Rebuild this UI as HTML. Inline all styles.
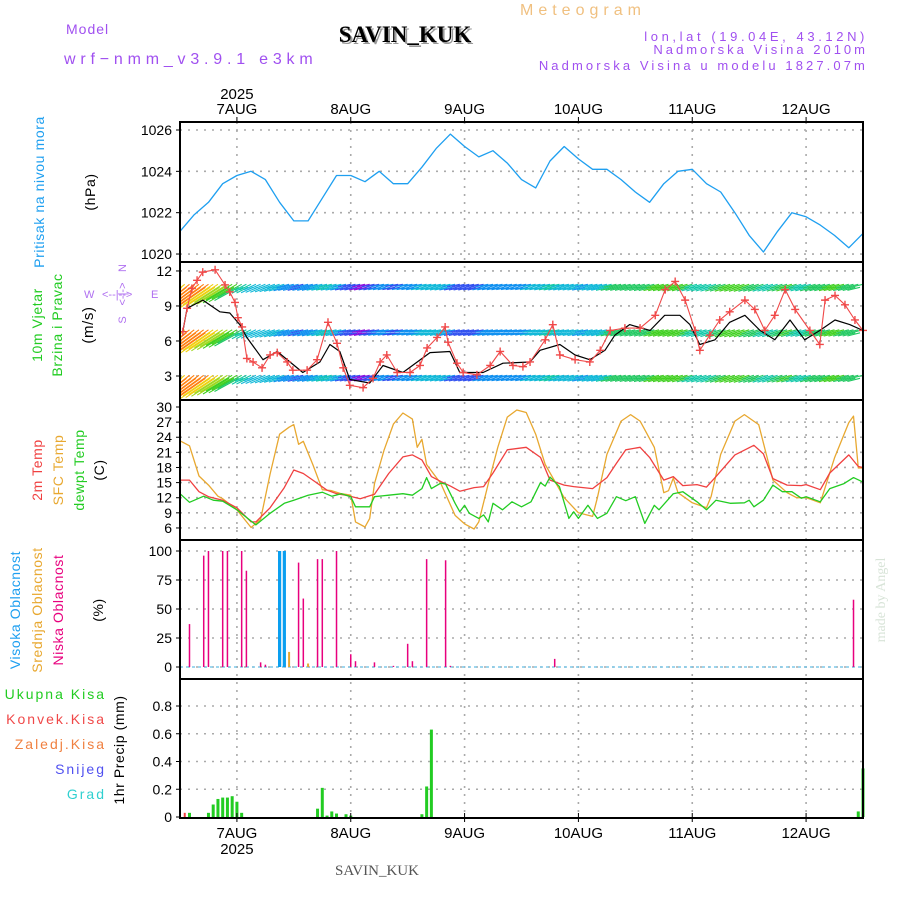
<!DOCTYPE html>
<html><head><meta charset="utf-8"><style>
body{margin:0;background:#fff}
svg{display:block;font-family:"Liberation Sans",sans-serif}
</style></head><body>
<svg id="chart" width="900" height="900" viewBox="0 0 900 900" xmlns="http://www.w3.org/2000/svg">
<g id="header">
<text x="520" y="15" font-size="16" fill="#f0c080" letter-spacing="5">Meteogram</text>
<text x="66" y="34" font-size="14" fill="#a050f0" letter-spacing="1">Model</text>
<text x="64" y="64" font-size="16" fill="#a050f0" letter-spacing="4.8">wrf−nmm_v3.9.1 e3km</text>
<text x="407" y="44" font-size="23" font-weight="bold" font-family="Liberation Serif, serif" fill="#999" text-anchor="middle">SAVIN_KUK</text>
<text x="405" y="42" font-size="23" font-weight="bold" font-family="Liberation Serif, serif" fill="#000" text-anchor="middle">SAVIN_KUK</text>
<text x="868" y="41" font-size="13" fill="#a050f0" text-anchor="end" letter-spacing="3.6">lon,lat (19.04E, 43.12N)</text>
<text x="868" y="54" font-size="13" fill="#a050f0" text-anchor="end" letter-spacing="3">Nadmorska Visina 2010m</text>
<text x="868" y="70" font-size="13" fill="#a050f0" text-anchor="end" letter-spacing="3.1">Nadmorska Visina u modelu 1827.07m</text>
</g>
<g id="grid"></g>
<g id="marks"></g>
<g id="frames"></g>
<g id="labels"></g>
</svg>
<script>
// ---- data ----
const dayLabels=["7AUG","8AUG","9AUG","10AUG","11AUG","12AUG"];
const dayHours=[12,36,60,84,108,132];
const presTicks=[1020,1022,1024,1026];
const windTicks=[3,6,9,12];
const tempTicks=[6,9,12,15,18,21,24,27,30];
const cloudTicks=[0,25,50,75,100];
const precTicks=[0,0.2,0.4,0.6,0.8];
const presHours=[0,3,6,9,12,15,18,21,24,27,30,33,36,39,42,45,48,51,54,57,60,63,66,69,72,75,78,81,84,87,90,93,96,99,102,105,108,111,114,117,120,123,126,129,132,135,138,141,144];
const pressure=[1021.1,1021.9,1022.5,1023.4,1023.8,1024.0,1023.6,1022.5,1021.6,1021.6,1022.7,1023.8,1023.8,1023.5,1024.0,1023.4,1023.4,1024.2,1025.1,1025.8,1025.2,1024.7,1025.0,1024.4,1023.6,1023.2,1024.5,1025.2,1024.6,1024.1,1024.1,1023.6,1023.0,1022.5,1023.4,1024.0,1024.1,1023.4,1023.0,1022.0,1020.9,1020.1,1021.1,1022.0,1021.8,1021.4,1020.9,1020.3,1021.0];
const speedHours=[0.6,1.5,4.8,8.4,10.5,12.6,14.1,17.5,20.5,25.9,29.5,31.6,33.7,35.8,40,42.8,47,52.7,56.9,59,63.9,68.1,73.8,75.9,80.1,83.3,86.4,89.6,91.7,94.8,99.1,102.2,105.4,107.5,109.6,112.8,115.9,119.1,122.3,125.4,128.6,131.7,134.9,138.1,141.2,144];
const windSpeed=[6.8,8.8,9.5,8.5,8.4,7.4,6.3,4.4,5.1,3.3,4.2,5.7,5.1,2.7,2.4,3.9,3.3,5,5.1,3.3,3.3,4.1,4.2,5.2,5.7,4.8,4.4,5.2,6.5,7.4,6.9,8.2,8.2,7.4,5.7,6.1,7.6,8.2,6.9,6.1,7.8,6.1,6.9,7.8,7.4,6.9];
const gustHours=[0.6,1.5,2.5,3.6,4.8,7.4,9.5,10.5,11.6,12.2,13.1,14.1,15.4,17.3,19,20.5,22.6,23.8,26.8,28.9,31.2,33.1,34.4,35.8,38.6,40.7,42.2,43.6,45.8,48.5,50.6,52.1,54.2,55.9,56.5,58.4,59.7,62.6,65.4,67.5,70.2,72.3,73.8,77,78.6,80.1,83.3,86.4,88.6,90.7,93.8,97,100.2,102.3,104.4,106.5,108.6,109.6,111.7,113.8,115.9,119.1,121.2,123.3,125.4,127.6,129.7,132.8,134.9,136,138.1,140.2,142.3,144];
const windGust=[6.8,8.8,10.5,11.2,11.9,12.1,10.8,10.2,9.3,8,7.2,4.5,4.2,3.7,4.8,5,4.2,3.5,3.5,4.4,7.6,5.8,3.7,2.2,2,2.8,4.2,4.8,3.3,3.3,3.9,5.4,6.3,7.2,5.9,4.1,3.3,3.1,3.9,5.1,3.9,3.8,4.2,6.1,7.4,4.8,4.4,4.2,5.2,6.9,7.1,7.1,8.2,10.4,11.1,9.5,6.9,5.2,6.5,7.8,8.5,9.5,8.7,6.9,8.2,10.4,8.7,6.9,5.7,9.5,9.9,9.1,7.8,6.9];
const windDirHours=[0,12,24,36,48,60,72,84,96,108,120,132,144];
const windDir=[40,30,14,12,10,12,10,12,14,16,18,16,14];
const t2Hours=[0,2,4,6,9,12,15,16,19,22,24,26,28,31,33,35,38,41,44,47,49,51,53,55,57,59,62,64,66,69,73,76,78,81,83,87,90,92,94,97,99,102,104,106,109,111,113,117,121,123,125,128,131,132,135,137,141,143,144];
const temp2m=[15.5,15.5,13.2,12.2,11.5,10,7.2,7.2,10,14,17.5,16.8,15.5,13.5,12.8,12.5,11.8,12.7,16.8,20.1,20.5,19.5,16.2,15.2,14.3,13.3,14,14.2,16.9,21.5,22,20,15.5,14.5,14.2,13.8,16,18.8,21.5,22,20,15.5,16.2,14.4,14.6,14.1,16.2,20.5,22.4,20.7,15.8,14.5,14.4,14.6,13.6,16.9,20.5,18.2,18];
const sfcHours=[0,2,4,6,8,9,12,15,17,19,21,23,24,25,26,28,30,32,34,36,37,39,40,41,43,45,47,49,50,51,52,55,58,60,62,63,65,67,69,71,73,75,77,81,84,87,88,90,93,95,97,100,102,103,104,105,108,111,112,114,117,119,122,125,128,130,132,135,138,141,142,143,144];
const tempSfc=[23.3,22.3,16.3,14.5,12.3,11.8,9.6,6.1,7.7,16.7,24.6,26,26.5,22.6,23.2,18.6,13.6,13.4,12.8,12.5,7.2,6.2,7.9,14.8,21.4,26.6,28.8,27.6,22,23.6,18.6,14.8,8.5,6.8,5.8,7.2,14.8,22,28,29.4,28.9,24.6,18.6,12,9,8.3,12,20.6,27.2,28.5,27.2,22,13,13.4,15.9,13,11,10,12.3,20.6,27.2,28.5,26.5,15.5,13,12,12,11,19.9,26.9,28.2,17.9,17.9];
const dewHours=[0,2,5,7,9,12,16,19,22,24,27,30,32,34,36,37,40,41,44,47,49,51,52,53,55,56,58,59,60,61,63,64,65,66,68,70,72,74,76,77,78,80,82,83,84,86,88,90,92,94,96,98,100,101,104,106,109,111,113,116,119,120,121,123,125,127,129,131,132,135,137,140,142,144];
const dewpoint=[12.8,11.1,12.3,11.5,11.3,9.6,6.6,8.9,10.9,11.5,12.5,13.1,12.3,12.8,12.2,10.2,10.2,12.2,12.5,12.8,12.5,13.8,16,13.8,14.9,14.7,10.9,9.2,10.5,8.9,7.9,8.6,7.2,10.9,9.6,11.2,10.2,11.2,15,14.3,16.1,14.2,7.9,9.2,7.9,10.5,7.9,8.9,12.2,11.4,12.2,6.9,10.5,9.6,12.8,13.2,11.2,9.6,11.5,10.9,11,11.5,10.2,11.5,14.5,13.2,13.2,11.9,12.2,11.2,13.8,14.8,16,15.1];
const lowCloudHours=[2,5,6,9,10,13,14,17,18,25,26,29,30,33,36,37,41,45,48,49,52,56,57,79,142];
const lowCloud=[37,96,100,100,100,100,83,4,2,90,59,93,93,100,11,5,4,1,20,5,93,92,1,7,58];
const midCloudHours=[23,27];
const midCloud=[13,3];
const highCloudHours=[21,22];
const highCloud=[100,100];
const precipHours=[2,6,7,8,9,10,11,12,13,29,30,31,32,33,35,36,51,52,53,143,144];
const precipTotal=[0.03,0.03,0.09,0.13,0.14,0.14,0.15,0.11,0.03,0.06,0.21,0.01,0.04,0.025,0.02,0.01,0.02,0.22,0.63,0.04,0.35];
const convHours=[1];
const convPrecip=[0.03];

// ---- scales ----
const L=180,R=863;
const X=h=>L+h*(R-L)/144;
const yP=v=>130+(1026-v)*20.67;
const yW=v=>411-v*11.67;
const yT=v=>407+(30-v)*5.04;
const yC=v=>667-v*1.16;
const yR=v=>817-v*138.75;
const panels=[[122,262],[262,400],[400,540],[540,679],[679,818]];
const NS="http://www.w3.org/2000/svg";
function mk(tag,attrs,parent,text){const e=document.createElementNS(NS,tag);for(const k in attrs)e.setAttribute(k,attrs[k]);if(text!==undefined)e.textContent=text;parent.appendChild(e);return e;}
function interp(hs,vs,h){if(h<=hs[0])return vs[0];for(let i=1;i<hs.length;i++){if(h<=hs[i]){const t=(h-hs[i-1])/(hs[i]-hs[i-1]);return vs[i-1]+t*(vs[i]-vs[i-1]);}}return vs[vs.length-1];}
const grid=document.getElementById('grid'),marks=document.getElementById('marks'),frames=document.getElementById('frames'),labels=document.getElementById('labels');

// grid
const dash={stroke:"#aaa","stroke-width":1.6,"stroke-dasharray":"2,6",fill:"none"};
dayHours.forEach((h,i)=>{const g=mk('line',Object.assign({x1:X(h),x2:X(h),y1:122,y2:818},dash),grid);

});
function hgrid(ticks,f,name){ticks.forEach(t=>{const g=mk('line',Object.assign({x1:L,x2:R,y1:f(t),y2:f(t)},dash),grid);

});}
hgrid(presTicks,yP,'pressure-gridline');hgrid(windTicks,yW,'wind-gridline');hgrid(tempTicks.filter(t=>t!==30),yT,'temp-gridline');hgrid(cloudTicks,yC,'cloud-gridline');hgrid(precTicks.filter(t=>t>0),yR,'precip-gridline');

function poly(hs,vs,fy,color,w,name){const pts=hs.map((h,i)=>X(h).toFixed(1)+","+fy(vs[i]).toFixed(1)).join(" ");const p=mk('polyline',{points:pts,fill:"none",stroke:color,"stroke-width":w,"stroke-linejoin":"round"},marks);

return p;}
poly(presHours,pressure,yP,"#1e9ff0",1.3,'pressure-line');

// wind arrows (3 bands), colour by speed bin
const palette=["#8a10e0","#3050f0","#1090f0","#10b8d8","#10c8a8","#20c860","#40d020","#a0d820","#f0d010","#ff8010","#ff2040"];
function speedColor(s){let i=Math.floor(s-1.5);if(i<0)i=0;if(i>palette.length-1)i=palette.length-1;return palette[i];}
const defs=mk('defs',{},document.getElementById('chart'));
const cp=mk('clipPath',{id:"windclip"},defs);mk('rect',{x:L,y:263,width:R-L,height:136},cp);
const windG=mk('g',{"clip-path":"url(#windclip)"},marks);


[10.6,6.7,2.8].forEach(bv=>{for(let h=0;h<=144;h+=1){const sv=interp(speedHours,windSpeed,h)+(h<12?(12-h)*0.25:0);const col=speedColor(sv);
const d=interp(windDirHours,windDir,h)*Math.PI/180;const len=h<14?26+(14-h)*1.5:13;const x0=X(h),y0=yW(bv)-3;
const x1=x0-len*Math.cos(d),y1=y0+len*Math.sin(d);
const a=mk('path',{d:"M"+x0.toFixed(1)+","+y0.toFixed(1)+"L"+x1.toFixed(1)+","+y1.toFixed(1)+"M"+(x0-3).toFixed(1)+","+(y0+3).toFixed(1)+"L"+(x1-3).toFixed(1)+","+(y1+3).toFixed(1),stroke:col,"stroke-width":1.1,fill:"none"},windG);

}});
poly(speedHours,windSpeed,yW,"#000",1.2,'wind-speed-line');
poly(gustHours,windGust,yW,"#f04848",1.1,'wind-gust-line');
gustHours.forEach((h,i)=>{const x=X(h),y=yW(windGust[i]);const m=mk('path',{d:"M"+(x-4)+","+y+"H"+(x+4)+"M"+x+","+(y-4)+"V"+(y+4),stroke:"#f04848","stroke-width":1.4},marks);

});

// temperatures
poly(sfcHours,tempSfc,yT,"#e8a830",1.3,'sfc-temp-line');
poly(t2Hours,temp2m,yT,"#f04040",1.3,'temp-2m-line');
poly(dewHours,dewpoint,yT,"#22cc22",1.3,'dewpoint-line');

// clouds
const cb=mk('line',{x1:L,x2:R,y1:yC(0),y2:yC(0),stroke:"#7fc8e8","stroke-width":1.5,"stroke-dasharray":"3,3"},marks);


function bars(hs,vs,fy,col,w,name){hs.forEach((h,i)=>{const y=fy(vs[i]),y0=fy(0);const r=mk('rect',{x:X(h)-w/2,y:y,width:w,height:Math.max(0.5,y0-y),fill:col},marks);

});}
bars(highCloudHours,highCloud,yC,"#0a9ff0",3.2,'high-cloud-bar');
bars(midCloudHours,midCloud,yC,"#e8a830",2,'mid-cloud-bar');
bars(lowCloudHours,lowCloud,yC,"#e8007e",1.5,'low-cloud-bar');
// precip
bars(precipHours,precipTotal,yR,"#22cc22",3,'precip-bar');
bars(convHours,convPrecip,yR,"#f04040",2,'convective-precip-bar');

// frames
panels.forEach(([a,b],i)=>{const r=mk('rect',{x:L,y:a,width:R-L,height:b-a,fill:"none",stroke:"#000","stroke-width":2},frames);

});
dayHours.forEach(h=>{const t=mk('path',{d:"M"+X(h)+",117V122M"+X(h)+",813V822",stroke:"#000","stroke-width":1},frames);

});

// tick labels
function ylabels(ticks,f,fmt,name){ticks.forEach(t=>{const tx=mk('text',{x:172,y:f(t)+5,"font-size":14,"text-anchor":"end",fill:"#000"},labels,fmt(t));


const tk=mk('line',{x1:L-4,x2:L,y1:f(t),y2:f(t),stroke:"#000"},labels);

});}
ylabels(presTicks,yP,t=>t,'pressure-tick-label');
ylabels(windTicks,yW,t=>t,'wind-tick-label');
ylabels(tempTicks,yT,t=>t,'temp-tick-label');
ylabels(cloudTicks,yC,t=>t,'cloud-tick-label');
ylabels(precTicks,yR,t=>t===0?"0":t.toFixed(1),'precip-tick-label');
dayLabels.forEach((d,i)=>{const a=mk('text',{x:X(dayHours[i]),y:114,"font-size":15,"text-anchor":"middle"},labels,d);


const b=mk('text',{x:X(dayHours[i]),y:838,"font-size":15,"text-anchor":"middle"},labels,d);

});
const y1=mk('text',{x:X(12),y:99,"font-size":15,"text-anchor":"middle"},labels,"2025");


const y2=mk('text',{x:X(12),y:854,"font-size":15,"text-anchor":"middle"},labels,"2025");



// axis titles (rotated)
function vtext(x,y,s,col,size,name){const t=mk('text',{x:0,y:0,transform:"translate("+x+","+y+") rotate(-90)","font-size":size||14,"text-anchor":"middle",fill:col,"letter-spacing":"0.6"},labels,s);

}
vtext(44,192,"Pritisak na nivou mora","#1e9ff0",14,'pressure-title');
vtext(95,192,"(hPa)","#000",14,'pressure-unit');
vtext(42,325,"10m Vjetar","#22cc22",14,'wind-title');
vtext(62,325,"Brzina i Pravac","#22cc22",14,'wind-subtitle');
vtext(93,325,"(m/s)","#000",15,'wind-unit');
vtext(42,470,"2m Temp","#f04040",14,'temp-2m-title');
vtext(63,470,"SFC Temp","#e8a830",14,'sfc-temp-title');
vtext(84,470,"dewpt Temp","#22cc22",14,'dewpt-title');
vtext(104,470,"(C)","#000",14,'temp-unit');
vtext(20,610,"Visoka Oblacnost","#1e9ff0",14,'high-cloud-title');
vtext(42,610,"Srednja Oblacnost","#e8a830",14,'mid-cloud-title');
vtext(63,610,"Niska Oblacnost","#e8007e",14,'low-cloud-title');
vtext(103,610,"(%)","#000",14,'cloud-unit');
vtext(124,750,"1hr Precip (mm)","#000",14,'precip-title');
const pl=[["Ukupna Kisa","#22cc22",699],["Konvek.Kisa","#f04848",724],["Zaledj.Kisa","#f08040",749],["Snijeg","#5050f0",774],["Grad","#30d0d0",799]];
pl.forEach(p=>{const t=mk('text',{x:106,y:p[2],"font-size":14,"text-anchor":"end",fill:p[1],"letter-spacing":"2"},labels,p[0]);

});
// compass
const cg=mk('g',{fill:"#b070f0","font-size":11},labels);


mk('text',{x:0,y:0,transform:"translate(126,268) rotate(-90)","text-anchor":"middle"},cg,"N");
mk('text',{x:0,y:0,transform:"translate(126,294) rotate(-90)","text-anchor":"middle"},cg,"<-|->");
mk('text',{x:0,y:0,transform:"translate(126,320) rotate(-90)","text-anchor":"middle"},cg,"S");
mk('text',{x:84,y:298},cg,"W");
mk('text',{x:102,y:298},cg,"<--|-->");
mk('text',{x:151,y:298},cg,"E");
const ma=mk('text',{x:0,y:0,transform:"translate(885,600) rotate(-90)","font-size":14,"text-anchor":"middle",fill:"#d8e4d8","font-family":"Liberation Serif, serif"},labels,"made by Angel");


const ft=mk('text',{x:377,y:875,"font-size":15,"text-anchor":"middle",fill:"#555","font-family":"Liberation Serif, serif"},labels,"SAVIN_KUK");


</script>
</body></html>
